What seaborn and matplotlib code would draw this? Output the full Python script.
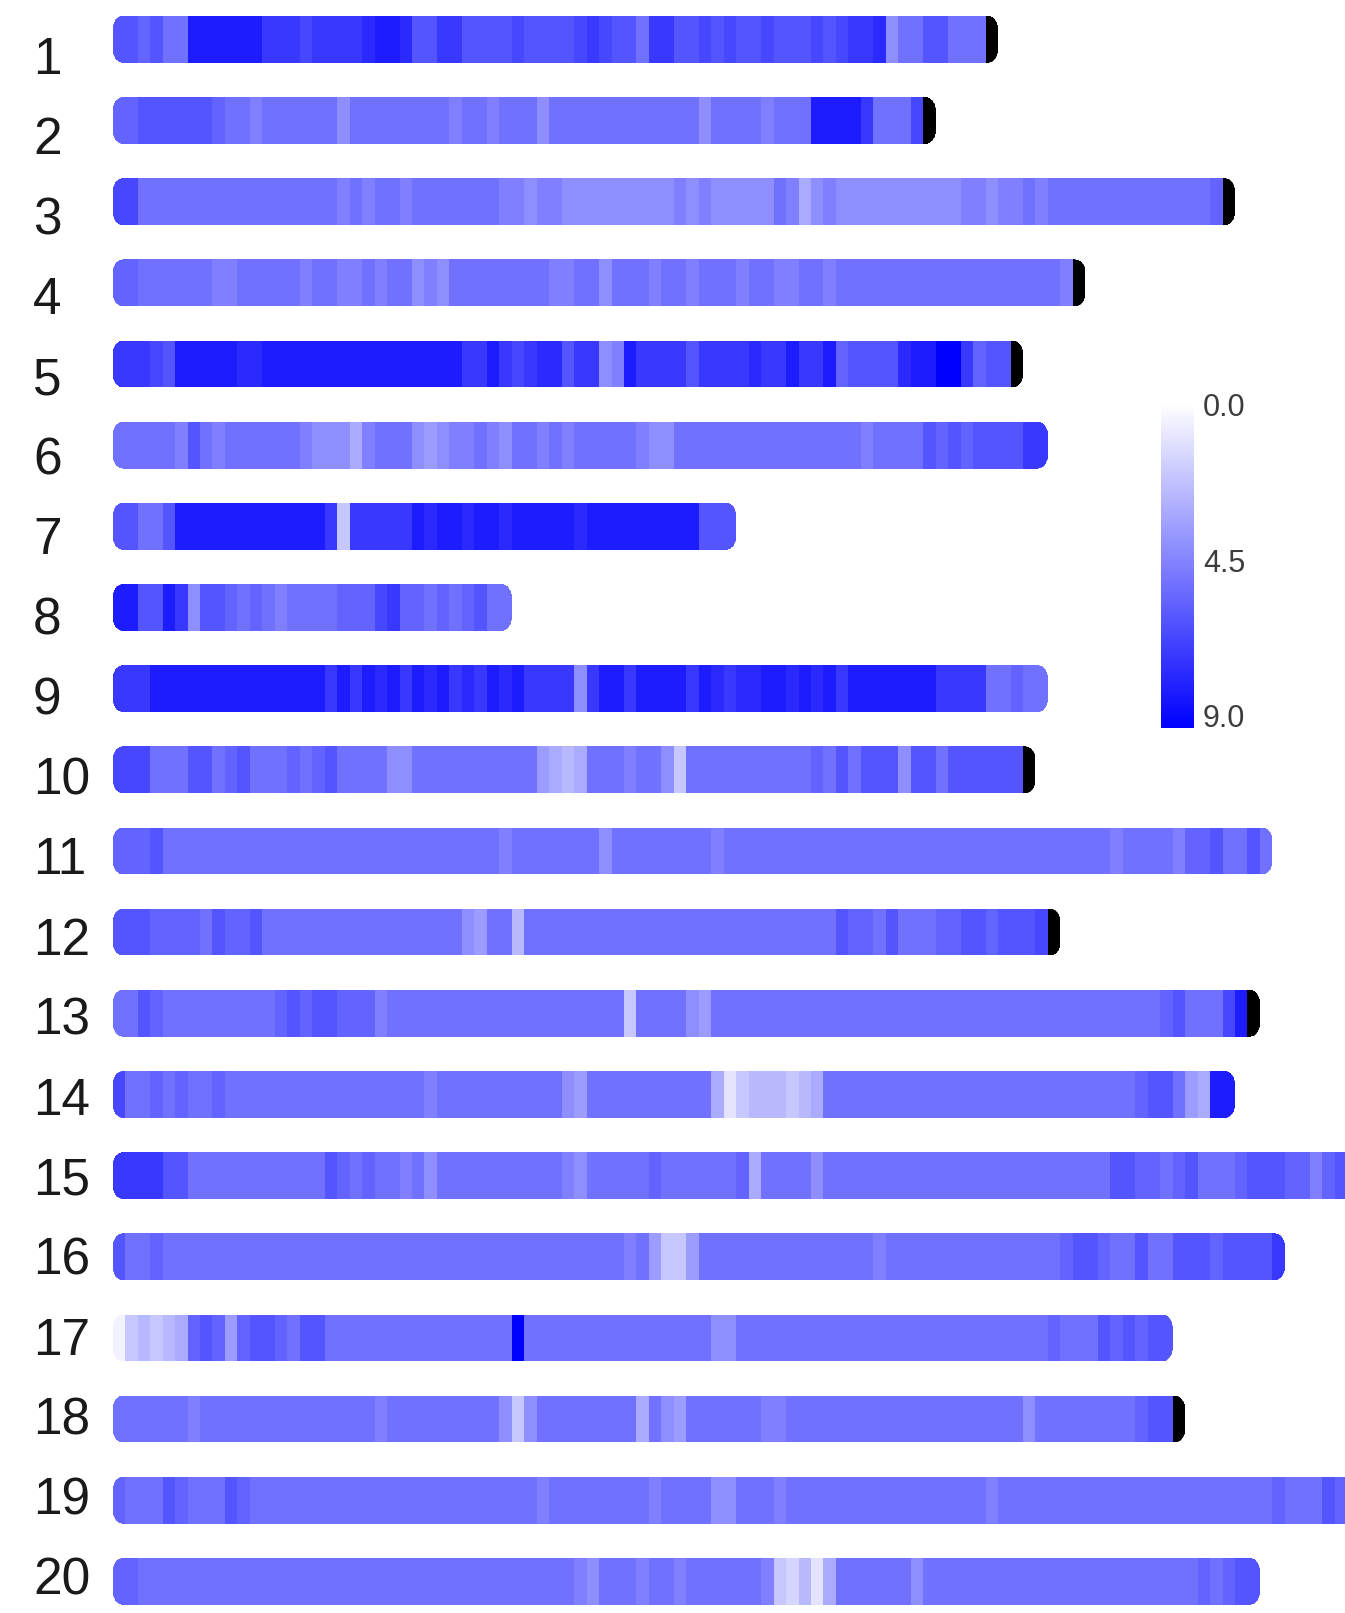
import numpy as np
import pandas as pd
import matplotlib
matplotlib.use("Agg")
import matplotlib.pyplot as plt
import seaborn as sns
from matplotlib.colors import LinearSegmentedColormap, Normalize
from matplotlib.patches import PathPatch
from matplotlib.path import Path
from matplotlib.cm import ScalarMappable

# ---------------- data: per-chromosome density windows, run-length (count, value) ----------------
chrom_labels = [str(i) for i in range(1, 21)]

chr01 = [(2, 6), (1, 5.5), (1, 6), (2, 5), (6, 8), (3, 7), (1, 6.5), (4, 7), (1, 7.5), (2, 8), (1, 7.5),
         (2, 6), (2, 7), (4, 6), (1, 6.5), (4, 6), (1, 6.5), (1, 7), (1, 6.5), (2, 6), (1, 5), (2, 7),
         (2, 6), (1, 6.5), (1, 6), (1, 6.5), (2, 6), (1, 6.5), (3, 6), (1, 6.5), (1, 6), (1, 6.5), (2, 7),
         (1, 7.5), (1, 4), (2, 5), (2, 6), (3, 5)]
chr02 = [(2, 5.5), (6, 6), (1, 5.5), (2, 5), (1, 4.5), (6, 5), (1, 4), (8, 5), (1, 4.5), (2, 5), (1, 4.5),
         (3, 5), (1, 4), (12, 5), (1, 4), (4, 5), (1, 4.5), (3, 5), (4, 8), (1, 7), (3, 5), (1, 6.5)]
chr03 = [(2, 6.5), (16, 5), (1, 4.5), (1, 5), (1, 4.5), (2, 5), (1, 4.5), (7, 5), (2, 4.5), (1, 4),
         (2, 4.5), (9, 4), (1, 4.5), (1, 4), (1, 4.5), (5, 4), (1, 5), (1, 4.5), (1, 3), (1, 4), (1, 4.5),
         (10, 4), (2, 4.5), (1, 4), (2, 4.5), (1, 5), (1, 4.5), (13, 5), (1, 5.5)]
chr04 = [(2, 5.5), (6, 5), (2, 4.5), (5, 5), (1, 4.5), (2, 5), (2, 4.5), (1, 5), (1, 4.5), (2, 5), (1, 4),
         (1, 4.5), (1, 4), (8, 5), (2, 4.5), (2, 5), (1, 4), (3, 5), (1, 4.5), (2, 5), (1, 4.5), (3, 5),
         (1, 4.5), (2, 5), (2, 4.5), (2, 5), (1, 4.5), (18, 5), (1, 4.5)]
chr05 = [(3, 7), (1, 6.5), (1, 6), (5, 8), (2, 7.5), (16, 8), (2, 7), (1, 8), (1, 7), (1, 6.5), (1, 7),
         (2, 7.5), (1, 6), (2, 7), (1, 4), (1, 4.5), (1, 8), (4, 7), (1, 6), (4, 7), (1, 7.5), (2, 7),
         (1, 8), (2, 7), (1, 8), (1, 5.5), (4, 6), (1, 7.5), (2, 8), (2, 9), (1, 7), (1, 5.5), (2, 6)]
chr06 = [(5, 5), (1, 4.5), (1, 6), (1, 5), (1, 4.5), (6, 5), (1, 4.5), (3, 4), (1, 3), (1, 4.5), (3, 5),
         (1, 4), (1, 3.5), (1, 4), (2, 4.5), (1, 5), (1, 4.5), (1, 4), (2, 5), (1, 4.5), (1, 5), (1, 4.5),
         (5, 5), (1, 4.5), (2, 4), (15, 5), (1, 4.5), (4, 5), (1, 6), (1, 5.5), (1, 6), (1, 5.5), (4, 6),
         (2, 7)]
chr07 = [(2, 6), (2, 5), (1, 6), (12, 8), (1, 7), (1, 2), (5, 7), (1, 8), (1, 7.5), (2, 8), (1, 7.5),
         (2, 8), (1, 7.5), (5, 8), (1, 7.5), (9, 8), (3, 6)]
chr08 = [(2, 8), (2, 6), (1, 8), (1, 7), (1, 4), (2, 6), (1, 5.5), (1, 5), (1, 5.5), (1, 5), (1, 4.5),
         (4, 5), (3, 5.5), (1, 6.5), (1, 7), (2, 5.5), (1, 5), (1, 5.5), (1, 5), (1, 5.5), (1, 6), (2, 5)]
chr09 = [(3, 7), (14, 8), (1, 7), (1, 8), (1, 7), (1, 8), (1, 7.5), (1, 8), (1, 7), (1, 8), (1, 7.5),
         (1, 8), (1, 7), (1, 7.5), (1, 7), (1, 8), (1, 7.5), (1, 8), (4, 7), (1, 4), (1, 7), (2, 8), (1, 7),
         (4, 8), (1, 7), (1, 8), (1, 7.5), (1, 7), (2, 7.5), (2, 8), (1, 7.5), (1, 8), (1, 7.5), (1, 8),
         (1, 7), (7, 8), (4, 7), (2, 5), (1, 5.5), (2, 5)]
chr10 = [(3, 6.5), (3, 5), (2, 6), (1, 5), (1, 5.5), (1, 6), (3, 5), (1, 5.5), (1, 5), (1, 5.5), (1, 6),
         (4, 5), (2, 4), (10, 5), (1, 3.5), (1, 3), (1, 2.5), (1, 3), (3, 5), (1, 4.5), (2, 5), (1, 4),
         (1, 2), (10, 5), (1, 5.5), (1, 5), (1, 6), (1, 5), (3, 6), (1, 4), (2, 6), (1, 5), (6, 6)]
chr11 = [(3, 5.5), (1, 6), (27, 5), (1, 4.5), (7, 5), (1, 4), (8, 5), (1, 4.5), (31, 5), (1, 4.5),
         (4, 5), (1, 4.5), (2, 5.5), (1, 6), (2, 5), (1, 6), (1, 5)]
chr12 = [(3, 6), (4, 5.5), (1, 5), (1, 6), (2, 5.5), (1, 6), (16, 5), (1, 4), (1, 3.5), (2, 5), (1, 2.5),
         (25, 5), (1, 6), (2, 5.5), (1, 5), (1, 6), (3, 5), (2, 5.5), (2, 6), (1, 5.5), (3, 6), (1, 6.5)]
chr13 = [(2, 5), (1, 6), (1, 5.5), (9, 5), (1, 5.5), (1, 6), (1, 5.5), (2, 6), (3, 5.5), (1, 4.5),
         (19, 5), (1, 2), (4, 5), (1, 4), (1, 3.5), (36, 5), (1, 5.5), (1, 6), (3, 5), (1, 6.5), (1, 8)]
chr14 = [(1, 6.5), (2, 5), (1, 5.5), (1, 5), (1, 5.5), (2, 5), (1, 5.5), (16, 5), (1, 4.5), (10, 5),
         (1, 4), (1, 3.5), (10, 5), (1, 3), (1, 1), (1, 2), (3, 2.5), (1, 2), (1, 2.5), (1, 3), (25, 5),
         (1, 5.5), (2, 6), (1, 5), (1, 3.5), (1, 3), (2, 8)]
chr15 = [(4, 7), (2, 6), (11, 5), (1, 6), (1, 5.5), (1, 5), (1, 5.5), (2, 5), (1, 4.5), (1, 5), (1, 4),
         (10, 5), (1, 4.5), (1, 4), (5, 5), (1, 5.5), (6, 5), (1, 5.5), (1, 3), (4, 5), (1, 4), (23, 5),
         (2, 6), (2, 5.5), (1, 5), (1, 5.5), (1, 6), (3, 5), (1, 5.5), (3, 6), (2, 5.5), (1, 4.5),
         (1, 5.5), (1, 6), (3, 5.5)]
chr16 = [(1, 6), (2, 5), (1, 5.5), (37, 5), (1, 4.5), (1, 5), (1, 3.5), (2, 2), (1, 3.5), (14, 5),
         (1, 4.5), (14, 5), (1, 5.5), (2, 6), (1, 5.5), (2, 5), (1, 6), (2, 5), (3, 6), (1, 5.5), (4, 6),
         (1, 7)]
chr17 = [(1, 0.5), (1, 2), (1, 2.5), (1, 2), (1, 2.5), (1, 3), (1, 5.5), (1, 6), (1, 5.5), (1, 3.5),
         (1, 5.5), (2, 6), (1, 5.5), (1, 5), (2, 6), (15, 5), (1, 9), (15, 5), (2, 4), (25, 5), (1, 5.5),
         (3, 5), (1, 6), (1, 5.5), (1, 6), (1, 5.5), (2, 6)]
chr18 = [(6, 5), (1, 4.5), (14, 5), (1, 4.5), (9, 5), (1, 4), (1, 2), (1, 4), (8, 5), (1, 3), (1, 5),
         (1, 4), (1, 3.5), (6, 5), (2, 4.5), (19, 5), (1, 4), (8, 5), (1, 5.5), (2, 6)]
chr19 = [(1, 5.5), (3, 5), (1, 6), (1, 5.5), (3, 5), (1, 6), (1, 5.5), (23, 5), (1, 4.5), (8, 5),
         (1, 4.5), (4, 5), (2, 4), (3, 5), (1, 4.5), (16, 5), (1, 4.5), (22, 5), (1, 5.5), (3, 5), (1, 6),
         (1, 5.5), (3, 5)]
chr20 = [(2, 5.5), (35, 5), (1, 4.5), (1, 4), (3, 5), (1, 4.5), (2, 5), (1, 4.5), (6, 5), (1, 4.5),
         (1, 2), (1, 1.5), (1, 2.5), (1, 1), (1, 3), (6, 5), (1, 4), (22, 5), (1, 5.5), (1, 5), (1, 5.5),
         (2, 6)]

chrom_runs = [chr01, chr02, chr03, chr04, chr05, chr06, chr07, chr08, chr09, chr10,
              chr11, chr12, chr13, chr14, chr15, chr16, chr17, chr18, chr19, chr20]
# chromosomes whose terminal (partial) window is drawn black
black_tip_chroms = ["1", "2", "3", "4", "5", "10", "12", "13", "18"]
cbar_ticks = [0.0, 4.5, 9.0]
cbar_ticklabels = ["0.0", "4.5", "9.0"]

# ---------------- figure ----------------
W, H = 1345, 1613
sns.set_theme(style="white")
plt.rcParams["font.family"] = ["Liberation Sans", "DejaVu Sans"]
fig = plt.figure(figsize=(W / 100, H / 100), dpi=100)
fig.patch.set_facecolor("white")

base_cmap = LinearSegmentedColormap.from_list("density", ["#ffffff", "#0000ff"])
cmap = base_cmap.copy()
cmap.set_over("black")

X0, BW = 112.7, 12.47           # left edge and window width (px)
TOP0, PITCH, BH = 16.0, 81.16, 46.7
RX, RY = 10.0, 13.0             # rounding of chromosome ends (px)


def rounded_rect_path(w, h, rx, ry, npts=24):
    """Closed rounded-rectangle outline from (0,0) to (w,h) with elliptical corners."""
    t = np.linspace(0, np.pi / 2, npts)
    pts = []
    # corners: (cx, cy, start angle)
    for cx, cy, a0 in [(w - rx, h - ry, 0.0), (rx, h - ry, np.pi / 2),
                       (rx, ry, np.pi), (w - rx, ry, 1.5 * np.pi)]:
        ang = a0 + t
        pts.append(np.column_stack([cx + rx * np.cos(ang), cy + ry * np.sin(ang)]))
    verts = np.vstack(pts + [pts[0][:1]])
    codes = [Path.MOVETO] + [Path.LINETO] * (len(verts) - 2) + [Path.CLOSEPOLY]
    return Path(verts, codes)


for i, (lab, runs) in enumerate(zip(chrom_labels, chrom_runs)):
    vals = np.concatenate([np.full(n, v, dtype=float) for n, v in runs])
    if lab in black_tip_chroms:
        vals = np.append(vals, 99.0)
    n = len(vals)
    top = TOP0 + PITCH * i
    ax = fig.add_axes([X0 / W, 1 - (top + BH) / H, n * BW / W, BH / H])
    sns.heatmap(pd.DataFrame([vals]), ax=ax, cmap=cmap, vmin=0, vmax=9, cbar=False,
                xticklabels=False, yticklabels=False)
    ax.set_axis_off()
    clip = PathPatch(rounded_rect_path(n, 1.0, RX / BW, RY / BH), transform=ax.transData)
    ax.collections[0].set_clip_path(clip)

    fig.text(33 / W, 1 - (74 + 80.05 * i) / H, lab, fontsize=37, ha="left", va="baseline",
             color="#1a1a1a")

# ---------------- colour bar ----------------
CB_X, CB_TOP, CB_W, CB_H = 1161, 403, 33, 325
cax = fig.add_axes([CB_X / W, 1 - (CB_TOP + CB_H) / H, CB_W / W, CB_H / H])
sm = ScalarMappable(norm=Normalize(vmin=0, vmax=9), cmap=base_cmap)
cb = fig.colorbar(sm, cax=cax)
cb.outline.set_visible(False)
cb.set_ticks([])
cax.invert_yaxis()
nudges = [5, -1, -9]
for v, t, d in zip(cbar_ticks, cbar_ticklabels, nudges):
    ypx = CB_TOP + v / 9.0 * CB_H + d
    fig.text(1203 / W, 1 - ypx / H, t, fontsize=22, ha="left", va="center", color="#3c3c3c")

fig.savefig("out.png", dpi=100, facecolor="white")
